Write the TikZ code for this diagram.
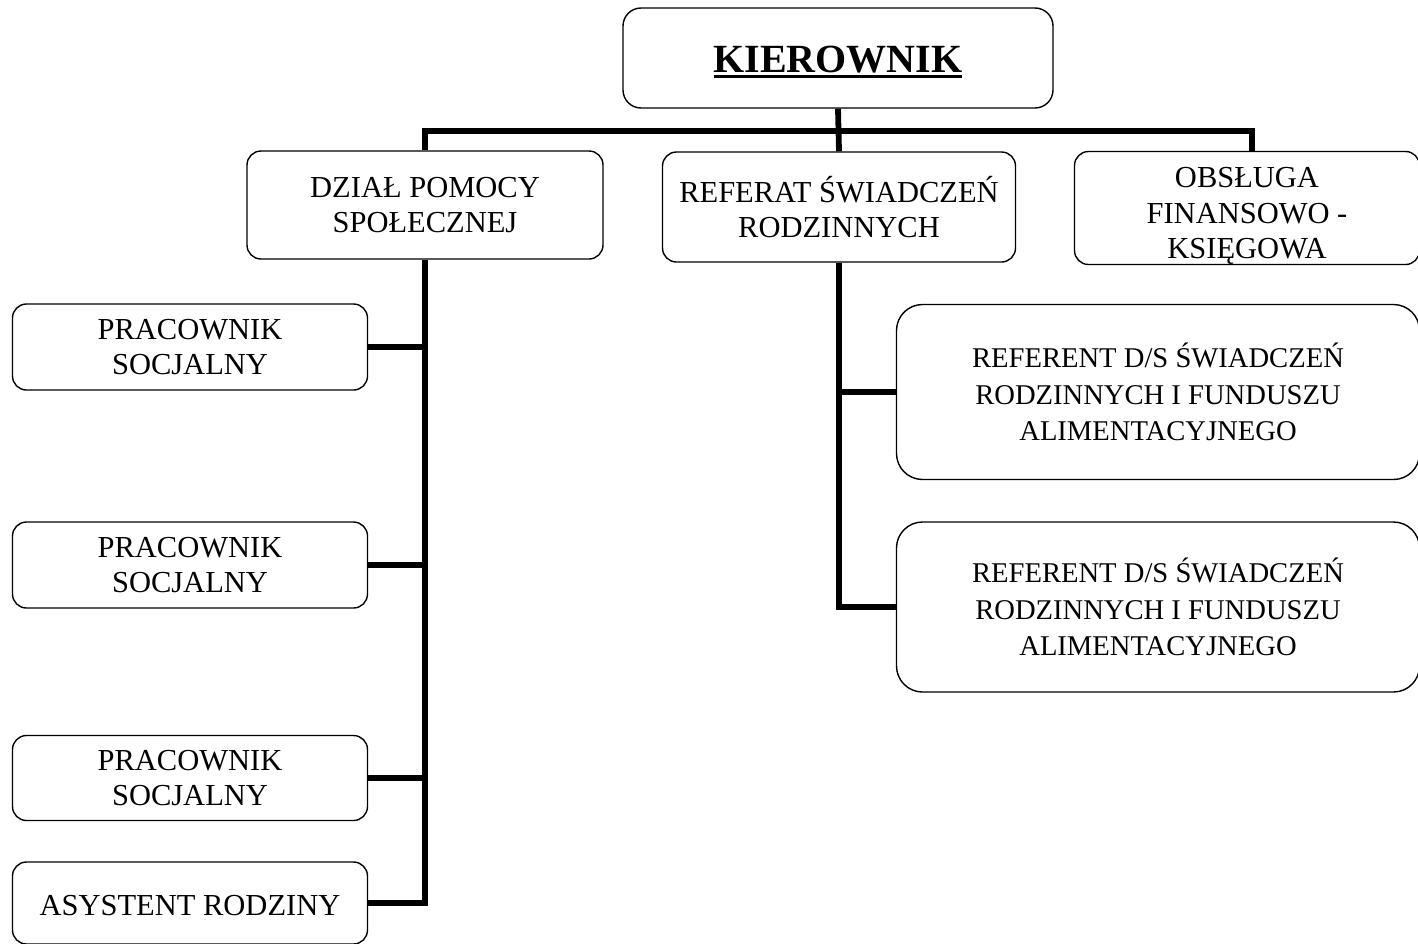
\documentclass[tikz,border=0pt]{standalone}
\usepackage{fontspec}
\setmainfont{Liberation Serif}
\newcommand\myul[1]{\setbox0\hbox{#1}\rlap{\rule[-6pt]{\wd0}{2.6pt}}\box0}
\begin{document}
\begin{tikzpicture}[x=1pt,y=-1pt,
  box/.style={draw, line width=1.4pt, rounded corners=14pt, align=center,
    font=\fontsize{30.5}{35}\selectfont, inner sep=0pt},
  bigbox/.style={box, rounded corners=26pt, font=\fontsize{28.6}{36.5}\selectfont},
  conn/.style={line width=5.8pt, line join=miter}]
\useasboundingbox (0,0) rectangle (1418,943);
% boxes
\node[box, rounded corners=18pt, minimum width=430, minimum height=100] (kier) at (838,58)
  {\fontsize{40}{45}\selectfont\bfseries\rule{0pt}{34pt}\myul{KIEROWNIK}};
\node[box, minimum width=356, minimum height=108] (dzial) at (425,205) {DZIAŁ POMOCY\\SPOŁECZNEJ};
\node[box, minimum width=353, minimum height=110] (ref) at (839,207) {REFERAT ŚWIADCZEŃ\\RODZINNYCH};
\node[box, minimum width=345, minimum height=110] (obs) at (1247,208)
  {\rule{0pt}{36pt}OBSŁUGA\\[0.5pt]FINANSOWO -\\[0.5pt]KSIĘGOWA};
\node[box, minimum width=355, minimum height=86] (prac1) at (190,347) {PRACOWNIK\\SOCJALNY};
\node[box, minimum width=355, minimum height=86] (prac2) at (190,565) {PRACOWNIK\\SOCJALNY};
\node[box, minimum width=355, minimum height=85] (prac3) at (190,778) {PRACOWNIK\\SOCJALNY};
\node[box, minimum width=355, minimum height=82] (asyst) at (190,903) {\rule{0pt}{26pt}ASYSTENT RODZINY};
\node[bigbox, minimum width=523, minimum height=175] (ref1) at (1158,392)
  {REFERENT D/S ŚWIADCZEŃ\\RODZINNYCH I FUNDUSZU\\ALIMENTACYJNEGO};
\node[bigbox, minimum width=523, minimum height=170] (ref2) at (1158,607)
  {REFERENT D/S ŚWIADCZEŃ\\RODZINNYCH I FUNDUSZU\\ALIMENTACYJNEGO};
% connectors
\coordinate (barL) at (425,131);
\coordinate (barR) at (1252,131);
\draw[conn] (kier.south) -- (ref.north);
\draw[conn] (dzial.north) -- (barL) -- (barR) -- (barR |- obs.north);
\draw[conn] (dzial.south) |- (asyst.east);
\draw[conn] (prac1.east) -- (prac1.east -| dzial.south);
\draw[conn] (prac2.east) -- (prac2.east -| dzial.south);
\draw[conn] (prac3.east) -- (prac3.east -| dzial.south);
\draw[conn] (ref.south) |- (ref2.west);
\draw[conn] (ref1.west) -- (ref1.west -| ref.south);
\end{tikzpicture}
\end{document}
